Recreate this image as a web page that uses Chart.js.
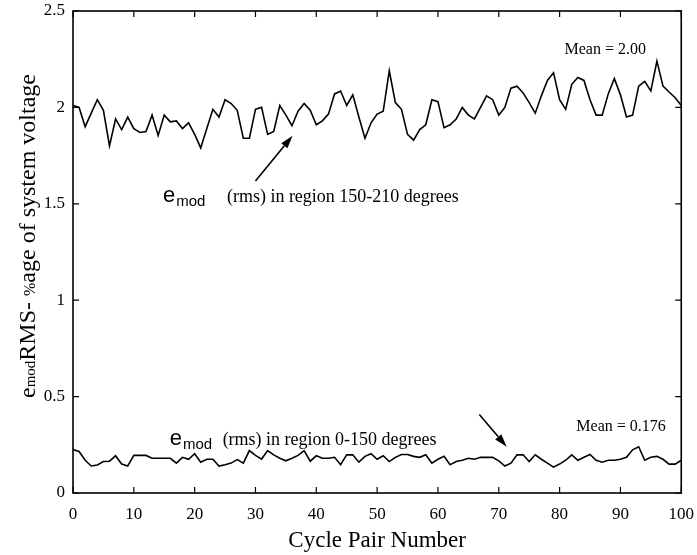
<!DOCTYPE html>
<html>
<head>
<meta charset="utf-8">
<script src="https://cdn.jsdelivr.net/npm/chart.js@4.4.1/dist/chart.umd.min.js"></script>
<style>
  html, body { margin: 0; padding: 0; background: #fff; }
  #wrap { width: 697px; height: 555px; }
</style>
</head>
<body>
<div id="wrap"><canvas id="rmsChart"></canvas></div>
<script>
// e_mod rms per cycle pair, region 150-210 degrees
const upperRms = [
    2.01, 2.00, 1.90, 1.97, 2.04, 1.985, 1.80, 1.94, 1.885, 1.95,
    1.89, 1.87, 1.875, 1.96, 1.855, 1.96, 1.925, 1.93, 1.89, 1.92,
    1.86, 1.79, 1.89, 1.99, 1.95, 2.04, 2.02, 1.985, 1.84, 1.84,
    1.99, 2.00, 1.86, 1.875, 2.01, 1.96, 1.905, 1.98, 2.02, 1.985,
    1.91, 1.93, 1.965, 2.07, 2.085, 2.01, 2.065, 1.95, 1.84, 1.92,
    1.965, 1.98, 2.19, 2.025, 1.99, 1.86, 1.83, 1.885, 1.91, 2.04,
    2.03, 1.895, 1.91, 1.94, 2.00, 1.96, 1.94, 2.00, 2.06, 2.04,
    1.96, 2.00, 2.10, 2.11, 2.075, 2.025, 1.97, 2.06, 2.14, 2.18,
    2.04, 1.99, 2.12, 2.155, 2.14, 2.04, 1.96, 1.96, 2.07, 2.15,
    2.065, 1.95, 1.96, 2.11, 2.135, 2.085, 2.24, 2.11, 2.08, 2.05,
    2.01
];

// e_mod rms per cycle pair, region 0-150 degrees
const lowerRms = [
    0.225, 0.215, 0.17, 0.14, 0.145, 0.163, 0.165, 0.193, 0.15, 0.14,
    0.195, 0.195, 0.195, 0.18, 0.18, 0.18, 0.18, 0.155, 0.185, 0.175,
    0.204, 0.16, 0.175, 0.175, 0.14, 0.147, 0.155, 0.173, 0.155, 0.22,
    0.195, 0.176, 0.22, 0.198, 0.18, 0.167, 0.18, 0.195, 0.22, 0.165,
    0.193, 0.18, 0.18, 0.185, 0.147, 0.198, 0.198, 0.16, 0.19, 0.204,
    0.175, 0.193, 0.163, 0.185, 0.2, 0.2, 0.19, 0.185, 0.198, 0.155,
    0.175, 0.19, 0.147, 0.163, 0.17, 0.18, 0.175, 0.185, 0.185, 0.185,
    0.167, 0.14, 0.155, 0.198, 0.198, 0.163, 0.198, 0.175, 0.155, 0.134,
    0.15, 0.17, 0.198, 0.17, 0.185, 0.2, 0.17, 0.16, 0.17, 0.17,
    0.175, 0.185, 0.224, 0.24, 0.17, 0.185, 0.19, 0.175, 0.15, 0.15,
    0.17
];

const xTicks = [0, 10, 20, 30, 40, 50, 60, 70, 80, 90, 100];
const yTicks = [0, 0.5, 1, 1.5, 2, 2.5];
const yTickLabels = ['0', '0.5', '1', '1.5', '2', '2.5'];

const SERIF = "'Liberation Serif', 'Times New Roman', serif";
const SANS = "'Liberation Sans', Arial, sans-serif";

// text notes and arrows, placed in data units
const notes = [
    { kind: 'mean', text: 'Mean = 2.00', x: 87.5, y: 2.30 },
    { kind: 'mean', text: 'Mean = 0.176', x: 90.1, y: 0.345 },
    { kind: 'label', text: '(rms) in region 150-210 degrees', x: 14.8, y: 1.535, tx: 25.3 },
    { kind: 'label', text: '(rms) in region 0-150 degrees', x: 15.9, y: 0.277, tx: 24.6 }
];
const arrows = [
    { from: [30.0, 1.618], to: [36.1, 1.853] },
    { from: [66.8, 0.407], to: [71.3, 0.240] }
];

function toPoints(arr) {
    return arr.map((v, i) => ({ x: i, y: v }));
}

// frame with inward ticks, axis title and notes
const framePlugin = {
    id: 'frame',
    afterDraw(chart) {
        const { ctx, chartArea: a, scales } = chart;
        const xs = scales.x, ys = scales.y;
        ctx.save();
        ctx.strokeStyle = '#000';
        ctx.lineWidth = 1.6;
        ctx.strokeRect(a.left, a.top, a.right - a.left, a.bottom - a.top);

        ctx.lineWidth = 1.2;
        const len = 6;
        ctx.beginPath();
        xTicks.forEach(t => {
            const px = xs.getPixelForValue(t);
            ctx.moveTo(px, a.bottom); ctx.lineTo(px, a.bottom - len);
            ctx.moveTo(px, a.top); ctx.lineTo(px, a.top + len);
        });
        yTicks.forEach(t => {
            const py = ys.getPixelForValue(t);
            ctx.moveTo(a.left, py); ctx.lineTo(a.left + len, py);
            ctx.moveTo(a.right, py); ctx.lineTo(a.right - len, py);
        });
        ctx.stroke();

        // y axis title, mixed fonts
        ctx.save();
        ctx.translate(35, 236);
        ctx.rotate(-Math.PI / 2);
        ctx.fillStyle = '#000';
        ctx.textBaseline = 'alphabetic';
        const parts = [
            { t: 'e', f: '24px ' + SERIF },
            { t: 'mod', f: '15px ' + SERIF },
            { t: 'RMS- ', f: '24px ' + SERIF },
            { t: '%', f: '16px ' + SERIF },
            { t: 'age of system voltage', f: '24px ' + SERIF }
        ];
        let total = 0;
        parts.forEach(p => { ctx.font = p.f; total += ctx.measureText(p.t).width; });
        let cx = -total / 2;
        parts.forEach(p => {
            ctx.font = p.f;
            ctx.fillText(p.t, cx, 0);
            cx += ctx.measureText(p.t).width;
        });
        ctx.restore();

        // notes
        ctx.fillStyle = '#000';
        notes.forEach(n => {
            const px = xs.getPixelForValue(n.x);
            const py = ys.getPixelForValue(n.y);
            if (n.kind === 'mean') {
                ctx.font = '16px ' + SERIF;
                ctx.textAlign = 'center';
                ctx.textBaseline = 'middle';
                ctx.fillText(n.text, px, py);
            } else {
                ctx.textAlign = 'left';
                ctx.textBaseline = 'alphabetic';
                ctx.font = '22px ' + SANS;
                ctx.fillText('e', px, py + 5);
                const ew = ctx.measureText('e').width;
                ctx.font = '15px ' + SANS;
                ctx.fillText('mod', px + ew + 1, py + 9);
                ctx.font = '18px ' + SERIF;
                ctx.fillText(n.text, xs.getPixelForValue(n.tx), py + 5);
            }
        });

        // arrows with filled heads
        arrows.forEach(ar => {
            const x0 = xs.getPixelForValue(ar.from[0]), y0 = ys.getPixelForValue(ar.from[1]);
            const x1 = xs.getPixelForValue(ar.to[0]), y1 = ys.getPixelForValue(ar.to[1]);
            const ang = Math.atan2(y1 - y0, x1 - x0);
            const hl = 13, hw = 4;
            const bx = x1 - hl * Math.cos(ang), by = y1 - hl * Math.sin(ang);
            ctx.lineWidth = 1.6;
            ctx.beginPath();
            ctx.moveTo(x0, y0);
            ctx.lineTo(bx, by);
            ctx.stroke();
            ctx.beginPath();
            ctx.moveTo(x1, y1);
            ctx.lineTo(bx + hw * Math.sin(ang), by - hw * Math.cos(ang));
            ctx.lineTo(bx - hw * Math.sin(ang), by + hw * Math.cos(ang));
            ctx.closePath();
            ctx.fill();
        });
        ctx.restore();
    }
};

new Chart(document.getElementById('rmsChart'), {
    type: 'line',
    data: {
        datasets: [
            {
                label: '150-210 degrees',
                data: toPoints(upperRms),
                borderColor: '#000',
                borderWidth: 1.6,
                pointRadius: 0,
                tension: 0
            },
            {
                label: '0-150 degrees',
                data: toPoints(lowerRms),
                borderColor: '#000',
                borderWidth: 1.6,
                pointRadius: 0,
                tension: 0
            }
        ]
    },
    options: {
        responsive: true,
        maintainAspectRatio: false,
        animation: false,
        layout: { padding: { top: 11, right: 7, left: 0, bottom: 0 } },
        plugins: {
            legend: { display: false },
            tooltip: { enabled: false }
        },
        scales: {
            x: {
                type: 'linear',
                min: 0,
                max: 100,
                afterBuildTicks: s => { s.ticks = xTicks.map(v => ({ value: v })); },
                afterFit: s => { s.height = 62; },
                grid: { display: false },
                border: { display: false },
                ticks: {
                    color: '#000',
                    font: { family: SERIF, size: 17 },
                    padding: 3,
                    maxRotation: 0
                },
                title: {
                    display: true,
                    text: 'Cycle Pair Number',
                    color: '#000',
                    font: { family: SERIF, size: 23 },
                    padding: { top: 0, bottom: 0 }
                }
            },
            y: {
                type: 'linear',
                min: 0,
                max: 2.5,
                afterBuildTicks: s => { s.ticks = yTicks.map(v => ({ value: v })); },
                afterFit: s => { s.width = 73; },
                grid: { display: false },
                border: { display: false },
                ticks: {
                    color: '#000',
                    font: { family: SERIF, size: 17 },
                    padding: 0,
                    callback: (v) => yTickLabels[yTicks.indexOf(v)]
                }
            }
        }
    },
    plugins: [framePlugin]
});
</script>
</body>
</html>
